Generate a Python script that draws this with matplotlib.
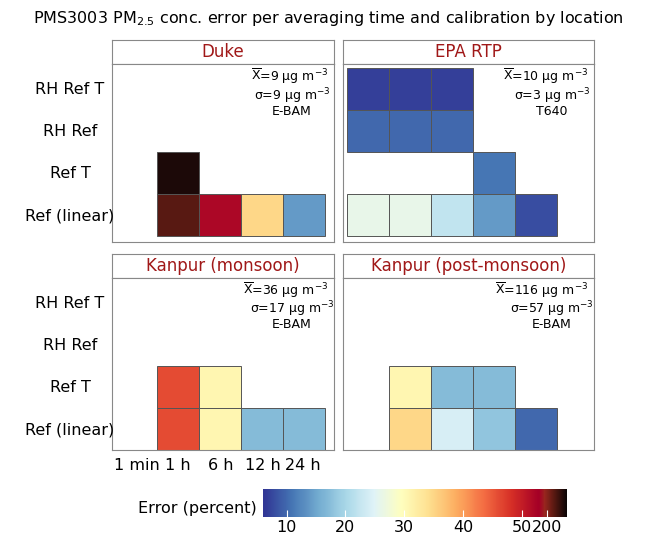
import matplotlib.pyplot as plt
import numpy as np
from matplotlib.colors import LinearSegmentedColormap
from matplotlib.patches import Rectangle

W, H = 656, 536

rows = ["RH Ref T", "RH Ref", "Ref T", "Ref (linear)"]
times = ["1 min", "1 h", "6 h", "12 h", "24 h"]
panels = ["Duke", "EPA RTP", "Kanpur (monsoon)", "Kanpur (post-monsoon)"]
means = [9, 10, 36, 116]
sds = [9, 3, 17, 57]
refs = ["E-BAM", "T640", "E-BAM", "E-BAM"]
nan = np.nan
# error (percent), rows x times
errors = [
    [[nan]*5, [nan]*5, [nan, 260, nan, nan, nan], [nan, 225, 52, 35, 14]],
    [[7, 7, 7, nan, nan], [10, 10, 10, nan, nan], [nan, nan, nan, 11, nan], [26, 26, 22, 14, 8]],
    [[nan]*5, [nan]*5, [nan, 46, 31, nan, nan], [nan, 46, 31, 17, 17]],
    [[nan]*5, [nan]*5, [nan, 31, 17, 17, nan], [nan, 35, 24, 18, 10]],
]
cbar_ticks = [10, 20, 30, 40, 50, 200]

# nonlinear colour position: 6-53 linear, above 53 compressed
def pos(v):
    return np.interp(v, [6, 53, 200, 270], [0, 0.91, 0.935, 1.0])

base = plt.get_cmap("RdYlBu_r")
cols = [base(x) for x in np.linspace(0, 1, 91)]
cols += [(0.6, 0.15, 0.12, 1), (0.35, 0.1, 0.07, 1), (0.05, 0.02, 0.02, 1)]
cmap = LinearSegmentedColormap.from_list(
    "err", list(zip(np.r_[np.linspace(0, 0.91, 91), [0.93, 0.96, 1.0]], cols)))

fig = plt.figure(figsize=(W/100, H/100), dpi=100)
def ax_px(x0, y0, x1, y1):
    return fig.add_axes([x0/W, 1 - y1/H, (x1-x0)/W, (y1-y0)/H])

fig.text(0.5, 1 - 18/H, r"PMS3003 PM$_{2.5}$ conc. error per averaging time and calibration by location",
         ha="center", va="center", fontsize=11.5)

boxes = [(112, 40, 334, 242), (343, 40, 594, 242), (112, 254, 334, 450), (343, 254, 594, 450)]
x_off = [115, 347, 115, 347]
cell = 42
for k, (x0, y0, x1, y1) in enumerate(boxes):
    sax = ax_px(x0, y0, x1, y0 + 24)
    sax.set_xticks([]); sax.set_yticks([])
    sax.text(0.5, 0.5, panels[k], color="#a01818", fontsize=12, ha="center", va="center",
             transform=sax.transAxes)
    for s in sax.spines.values():
        s.set_color("#888888")
    ax = ax_px(x0, y0 + 24, x1, y1)
    ax.set_xlim(x0, x1); ax.set_ylim(y1, y0 + 24)
    ax.set_xticks([]); ax.set_yticks([])
    for s in ax.spines.values():
        s.set_color("#888888")
    for r in range(4):
        for c in range(5):
            v = errors[k][r][c]
            if np.isnan(v):
                continue
            ax.add_patch(Rectangle((x_off[k] + c*cell, y0 + 28 + r*cell), cell, cell,
                                   facecolor=cmap(pos(v)), edgecolor="#555555", lw=0.7))
    w = x1 - x0
    ax.text((w - 6) / w, 0.985, r"$\overline{\mathrm{X}}$=%d μg m$^{-3}$" % means[k],
            transform=ax.transAxes, ha="right", va="top", fontsize=9)
    cx = (w - 42) / w
    ax.text(cx, 0.875, "σ=%d μg m$^{-3}$" % sds[k], transform=ax.transAxes,
            ha="center", va="top", fontsize=9)
    ax.text(cx, 0.77, refs[k], transform=ax.transAxes, ha="center", va="top", fontsize=9)
    if k % 2 == 0:
        for r, lab in enumerate(rows):
            fig.text(70/W, 1 - (y0 + 50 + r*cell)/H, lab, ha="center", va="center", fontsize=11.5)

for lab, x in zip(times, [137, 178, 221, 263, 303]):
    fig.text(x/W, 1 - 465/H, lab, ha="center", va="center", fontsize=11.5)

# colour bar
cax = ax_px(263, 489, 567, 517)
grad = np.linspace(0, 1, 500)[None, :]
cax.imshow(grad, aspect="auto", cmap=cmap, extent=[0, 1, 0, 1])
cax.set_yticks([])
cax.set_xticks(pos(np.array(cbar_ticks)))
cax.set_xticklabels([str(t) for t in cbar_ticks], fontsize=11.5)
cax.tick_params(axis="x", direction="in", color="white", length=5, pad=2)
for s in cax.spines.values():
    s.set_visible(False)
fig.text(257/W, 1 - 509/H, "Error (percent)", ha="right", va="center", fontsize=11.5)

fig.savefig("out.png", dpi=100)
